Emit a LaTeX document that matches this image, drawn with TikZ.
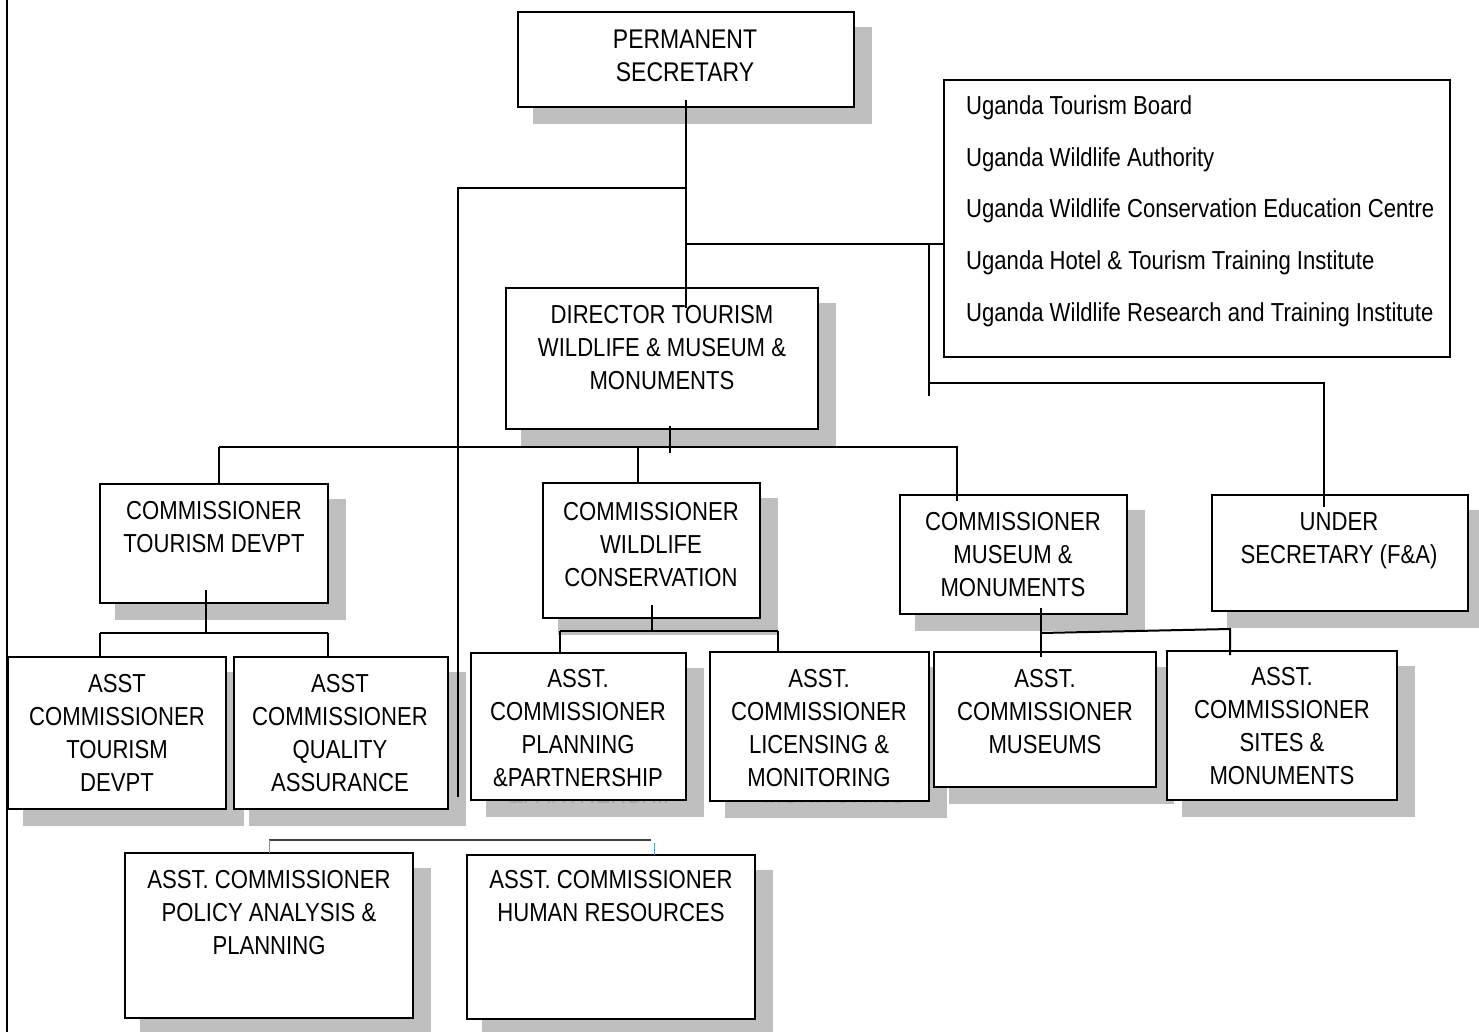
\documentclass[tikz,border=0pt]{standalone}
\usepackage{fontspec}
\setmainfont{Liberation Sans}[FakeStretch=0.85]
\usetikzlibrary{calc}
\pgfdeclarelayer{bg}
\pgfsetlayers{bg,main}
\definecolor{shadowgray}{HTML}{BFBFBF}
\definecolor{ghostgray}{HTML}{A6A6A6}
\definecolor{tickblue}{HTML}{5B9BD5}
\definecolor{rulegray}{HTML}{404040}
\tikzset{
  orgbox/.style={draw=black, line width=2pt, fill=white, rectangle, inner sep=0pt, outer sep=0pt},
  txt/.style={anchor=base, inner sep=0pt, font=\fontsize{26}{33}\selectfont},
  bigtxt/.style={txt, font=\fontsize{27}{33}\selectfont},
  listtxt/.style={anchor=base west, inner sep=0pt, font=\fontsize{26}{33}\selectfont},
  link/.style={line width=2pt, draw=black},
}
% box given by its corners (left, top, right, bottom)
\newcommand\orgnode[5]{%
  \node[orgbox, minimum width={#4-#2}, minimum height={#5-#3}] (#1) at ({(#2+#4)/2},{(#3+#5)/2}) {};}
% centred lines of text, first baseline given
\newcommand\boxtext[5][txt]{%
  \foreach \t [count=\i from 0] in {#5}{\node[#1] (#2-t\i) at ({#3},{#4+33*\i}) {\t};}}
\newcommand\shadowof[1]{%
  \fill[fill=shadowgray] ($(#1.north west)+(15,15)$) rectangle ($(#1.south east)+(18,17)$);}
\begin{document}
\begin{tikzpicture}[x=1pt, y=-1pt]
\useasboundingbox (0,0) rectangle (1479,1032);

% frame line on the left
\coordinate (frame-top) at (7,0);
\coordinate (frame-bot) at (7,1032);
\draw[line width=2.5pt] (frame-top) -- (frame-bot);

% boxes
\orgnode{ps}{518}{12}{854}{107}
\orgnode{list}{944}{80}{1450}{357}
\orgnode{dir}{506}{288}{818}{429}
\orgnode{ctd}{100}{484}{328}{603}
\orgnode{cwc}{543}{483}{760}{618}
\orgnode{cmm}{900}{495}{1127}{614}
\orgnode{us}{1212}{495}{1468}{611}
\orgnode{act}{8}{657}{226}{809}
\orgnode{aqa}{234}{657}{448}{809}
\orgnode{app}{471}{653}{686}{800}
\orgnode{alm}{710}{652}{929}{801}
\orgnode{am}{934}{652}{1156}{787}
\orgnode{asm}{1167}{651}{1397}{800}
\orgnode{apap}{125}{853}{413}{1018}
\orgnode{ahr}{467}{855}{755}{1019}

% drop shadows and the text shadows that show below two boxes
\begin{pgfonlayer}{bg}
  \foreach \b in {ps,dir,ctd,cwc,cmm,us,act,aqa,app,alm,am,asm,apap,ahr}{\shadowof{\b}}
  \node[txt, text=ghostgray] (app-ghost) at (593,803) {\&PARTNERSHIP};
  \node[txt, text=ghostgray] (alm-ghost) at (835,803) {MONITORING};
\end{pgfonlayer}

% texts
\boxtext[bigtxt]{ps}{685}{49}{PERMANENT,SECRETARY}
\foreach \t [count=\i from 0] in {Uganda Tourism Board,Uganda Wildlife Authority,
  Uganda Wildlife Conservation Education Centre,Uganda Hotel \& Tourism Training Institute,
  Uganda Wildlife Research and Training Institute}
  {\node[listtxt] (list-t\i) at (966,{115+51.5*\i}) {\t};}
\boxtext{dir}{662}{323}{DIRECTOR TOURISM,WILDLIFE \& MUSEUM \&,MONUMENTS}
\boxtext{ctd}{214}{519}{COMMISSIONER,TOURISM DEVPT}
\boxtext{cwc}{651}{520}{COMMISSIONER,WILDLIFE,CONSERVATION}
\boxtext{cmm}{1013}{530}{COMMISSIONER,MUSEUM \&,MONUMENTS}
\boxtext{us}{1339}{530}{UNDER,SECRETARY (F\&A)}
\boxtext{act}{117}{692}{ASST,COMMISSIONER,TOURISM,DEVPT}
\boxtext{aqa}{340}{692}{ASST,COMMISSIONER,QUALITY,ASSURANCE}
\boxtext{app}{578}{687}{ASST.,COMMISSIONER,PLANNING,\&PARTNERSHIP}
\boxtext{alm}{819}{687}{ASST.,COMMISSIONER,LICENSING \&,MONITORING}
\boxtext{am}{1045}{687}{ASST.,COMMISSIONER,MUSEUMS}
\boxtext{asm}{1282}{685}{ASST.,COMMISSIONER,SITES \&,MONUMENTS}
\boxtext{apap}{269}{888}{ASST. COMMISSIONER,POLICY ANALYSIS \&,PLANNING}
\boxtext{ahr}{611}{888}{ASST. COMMISSIONER,HUMAN RESOURCES}

% junction points
\coordinate (ps-stem) at (686,100);
\coordinate (dir-in) at (686,308);
\coordinate (j-left) at (686,188);
\coordinate (left-corner) at (458,188);
\coordinate (left-end) at (458,797);
\coordinate (j-right) at (686,244);
\coordinate (drop-top) at (929,244);
\coordinate (drop-end) at (929,396);
\coordinate (us-l) at (929,383);
\coordinate (us-r) at (1324,383);
\coordinate (us-in) at (1324,507);
\coordinate (dir-stem) at (670,426);
\coordinate (dir-stem-end) at (670,453);
\coordinate (row-l) at (219,447);
\coordinate (row-m) at (638,447);
\coordinate (row-r) at (957,447);
\coordinate (cmm-in) at (957,501);
\coordinate (ctd-stem) at (206,590);
\coordinate (ctd-j) at (206,633);
\coordinate (ctd-l) at (100,633);
\coordinate (ctd-r) at (328,633);
\coordinate (cwc-stem) at (652,605);
\coordinate (cwc-j) at (652,631);
\coordinate (cwc-l) at (560,631);
\coordinate (cwc-r) at (778,631);
\coordinate (cmm-stem) at (1041,608);
\coordinate (cmm-j) at (1041,633);
\coordinate (am-in) at (1041,657);
\coordinate (asm-r) at (1230,629);
\coordinate (asm-in) at (1230,655);
\coordinate (low-l) at (269,840);
\coordinate (low-r) at (651,840);
\coordinate (low-r2) at (654.5,843);

% connectors
\draw[link] (ps-stem) -- (dir-in);
\draw[link] (j-left) -- (left-corner) -- (left-end);
\draw[link] (j-right) -- (j-right -| list.west);
\draw[link] (drop-top) -- (drop-end);
\draw[link] (us-l) -- (us-r) -- (us-in);
\draw[link] (dir-stem) -- (dir-stem-end);
\draw[link] (row-l) -- (row-r) -- (cmm-in);
\draw[link] (row-l) -- (row-l |- ctd.north);
\draw[link] (row-m) -- (row-m |- cwc.north);
\draw[link] (ctd-stem) -- (ctd-j);
\draw[link] (ctd-l) -- (ctd-r);
\draw[link] (ctd-l) -- (ctd-l |- act.north);
\draw[link] (ctd-r) -- (ctd-r |- aqa.north);
\draw[link] (cwc-stem) -- (cwc-j);
\draw[link] (cwc-l) -- (cwc-r);
\draw[link] (cwc-l) -- (cwc-l |- app.north);
\draw[link] (cwc-r) -- (cwc-r |- alm.north);
\draw[link] (cmm-stem) -- (am-in);
\draw[link] (cmm-j) -- (asm-r) -- (asm-in);
\draw[draw=rulegray, line width=1.5pt] (low-l) -- (low-r);
\draw[draw=tickblue, line width=1pt] (low-l) -- (low-l |- apap.north);
\draw[draw=tickblue, line width=1pt] (low-r2) -- (low-r2 |- ahr.north);
\end{tikzpicture}
\end{document}
